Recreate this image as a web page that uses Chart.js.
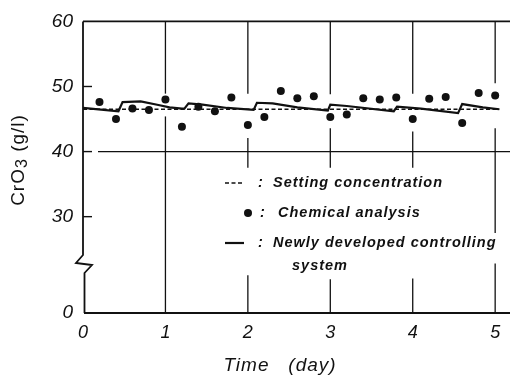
<!DOCTYPE html>
<html>
<head>
<meta charset="utf-8">
<script src="https://cdn.jsdelivr.net/npm/chart.js@4.4.1/dist/chart.umd.min.js"></script>
<style>
  html, body { margin: 0; padding: 0; background: #fff; }
  #wrap { width: 514px; height: 380px; }
</style>
</head>
<body>
<div id="wrap"><canvas id="chart"></canvas></div>
<script>
// chemical analysis (dots)
const dotDays = [0.2, 0.4, 0.6, 0.8, 1.0, 1.2, 1.4, 1.6, 1.8, 2.0, 2.2, 2.4, 2.6, 2.8, 3.0, 3.2, 3.4, 3.6, 3.8, 4.0, 4.2, 4.4, 4.6, 4.8, 5.0];
const dotValues = [47.6, 45.0, 46.6, 46.4, 48.0, 43.8, 46.9, 46.2, 48.3, 44.1, 45.3, 49.3, 48.2, 48.5, 45.3, 45.7, 48.2, 48.0, 48.3, 45.0, 48.1, 48.4, 44.4, 49.0, 48.6];

// setting concentration (dashed)
const settingDays = [0, 5.05];
const settingValues = [46.5, 46.5];

// newly developed controlling system (solid)
const controlDays = [0, 0.43, 0.48, 0.7, 0.9, 1.05, 1.2, 1.23, 1.28, 1.45, 1.75, 2.07, 2.11, 2.3, 2.6, 2.97, 3.0, 3.2, 3.77, 3.81, 4.1, 4.55, 4.6, 4.85, 5.05];
const controlValues = [46.7, 46.2, 47.6, 47.7, 47.2, 46.8, 46.6, 46.6, 47.4, 47.2, 46.7, 46.4, 47.5, 47.4, 46.8, 46.3, 47.2, 47.0, 46.2, 46.9, 46.6, 45.9, 47.3, 46.8, 46.5];

const xTicks = [0, 1, 2, 3, 4, 5];
const yTicks = [30, 40, 50, 60];
const Y_BREAK_MIN = 15.2; // display value where "0" sits below the axis break

const pts = (xs, ys) => xs.map((x, i) => ({x: x, y: ys[i]}));

// visible pieces of the vertical day lines (in y units)
const vSegments = {
  1: [[60, 48.9], [45.4, Y_BREAK_MIN]],
  2: [[60, 48.9], [42.1, 37.5], [21.0, Y_BREAK_MIN]],
  3: [[60, 48.8], [43.6, 37.5], [20.4, Y_BREAK_MIN]],
  4: [[60, 48.9], [43.1, 37.5], [20.5, Y_BREAK_MIN]],
  5: [[60, 50.5], [43.6, 27.5], [22.8, Y_BREAK_MIN]]
};

const FONT = '"Liberation Sans", Arial, sans-serif';

const frame = {
  id: 'frame',
  beforeDatasetsDraw(chart) {
    const {ctx, chartArea: a, scales: {x, y}} = chart;
    ctx.save();
    ctx.strokeStyle = '#111';
    ctx.lineWidth = 1.8;
    // top border
    ctx.beginPath();
    ctx.moveTo(a.left, a.top); ctx.lineTo(a.right, a.top);
    ctx.stroke();
    // bottom axis
    ctx.beginPath();
    ctx.moveTo(a.left + 1, a.bottom); ctx.lineTo(a.right, a.bottom);
    ctx.stroke();
    // left axis with break
    ctx.beginPath();
    ctx.moveTo(a.left, a.top);
    ctx.lineTo(a.left, 255);
    ctx.lineTo(a.left - 7, 263);
    ctx.lineTo(a.left + 9, 265);
    ctx.lineTo(a.left + 1.5, 273);
    ctx.lineTo(a.left + 1.5, a.bottom);
    ctx.stroke();
    // y tick marks inside
    ctx.lineWidth = 1.4;
    [30, 40, 50].forEach(v => {
      const py = y.getPixelForValue(v);
      ctx.beginPath(); ctx.moveTo(a.left, py); ctx.lineTo(a.left + 9, py); ctx.stroke();
    });
    // 40 line
    const p40 = y.getPixelForValue(40);
    ctx.beginPath(); ctx.moveTo(a.left + 15, p40); ctx.lineTo(a.right, p40); ctx.stroke();
    // vertical day lines
    ctx.lineWidth = 1.3;
    Object.keys(vSegments).forEach(d => {
      const px = x.getPixelForValue(+d);
      vSegments[d].forEach(s => {
        ctx.beginPath();
        ctx.moveTo(px, y.getPixelForValue(s[0]));
        ctx.lineTo(px, y.getPixelForValue(s[1]));
        ctx.stroke();
      });
    });
    ctx.restore();
  },
  afterDraw(chart) {
    const {ctx} = chart;
    ctx.save();
    ctx.fillStyle = '#111';
    ctx.letterSpacing = '1px';
    // y title with subscript
    ctx.translate(19, 160);
    ctx.rotate(-Math.PI / 2);
    ctx.textBaseline = 'middle';
    ctx.textAlign = 'left';
    const big = '19px ' + FONT, small = '16px ' + FONT;
    ctx.font = big;
    const w0 = ctx.measureText('CrO').width;
    const w2 = ctx.measureText(' (g/l)').width;
    ctx.font = small;
    const w1 = ctx.measureText('3').width;
    const sx = -(w0 + w1 + w2) / 2;
    ctx.font = big;
    ctx.fillText('CrO', sx, 0);
    ctx.font = small;
    ctx.fillText('3', sx + w0, 4);
    ctx.font = big;
    ctx.fillText(' (g/l)', sx + w0 + w1, 0);
    ctx.restore();

    ctx.save();
    ctx.fillStyle = '#111';
    ctx.strokeStyle = '#111';
    ctx.letterSpacing = '1px';
    // x title
    ctx.font = 'italic 19px ' + FONT;
    ctx.textAlign = 'center';
    ctx.textBaseline = 'middle';
    ctx.fillText('Time   (day)', 280, 366);

    // legend
    ctx.font = 'bold italic 14.5px ' + FONT;
    ctx.textAlign = 'left';
    ctx.lineWidth = 1.3;
    ctx.setLineDash([4, 2.5]);
    ctx.beginPath(); ctx.moveTo(225, 183); ctx.lineTo(244, 183); ctx.stroke();
    ctx.setLineDash([]);
    ctx.fillText(':', 258, 183);
    ctx.fillText('Setting concentration', 273, 183);

    ctx.beginPath(); ctx.arc(248, 213, 4, 0, Math.PI * 2); ctx.fill();
    ctx.fillText(':', 260, 213);
    ctx.fillText('Chemical analysis', 278, 213);

    ctx.lineWidth = 2.2;
    ctx.beginPath(); ctx.moveTo(225, 243); ctx.lineTo(244, 243); ctx.stroke();
    ctx.fillText(':', 258, 243);
    ctx.fillText('Newly developed controlling', 273, 243);
    ctx.fillText('system', 292, 266);
    ctx.restore();
  }
};

new Chart(document.getElementById('chart'), {
  type: 'scatter',
  data: {
    datasets: [
      {
        label: 'Chemical analysis',
        data: pts(dotDays, dotValues),
        showLine: false,
        pointRadius: 4,
        pointBackgroundColor: '#111',
        pointBorderWidth: 0,
        order: 0
      },
      {
        label: 'Setting concentration',
        data: pts(settingDays, settingValues),
        showLine: true,
        borderColor: '#111',
        borderWidth: 1.3,
        borderDash: [4, 2.5],
        pointRadius: 0,
        order: 2
      },
      {
        label: 'Newly developed controlling system',
        data: pts(controlDays, controlValues),
        showLine: true,
        borderColor: '#111',
        borderWidth: 2.2,
        pointRadius: 0,
        tension: 0,
        order: 1
      }
    ]
  },
  options: {
    responsive: true,
    maintainAspectRatio: false,
    animation: false,
    layout: {padding: {top: 19.5, right: 0, left: 0, bottom: 0}},
    plugins: {legend: {display: false}, tooltip: {enabled: false}},
    scales: {
      x: {
        type: 'linear',
        min: 0,
        max: 5.18,
        afterBuildTicks: s => { s.ticks = xTicks.map(v => ({value: v})); },
        ticks: {font: {family: FONT, size: 18, style: 'italic'}, color: '#111', padding: 9, callback: v => String(v)},
        grid: {display: false, drawTicks: false, tickLength: 0},
        border: {display: false},
        afterFit: s => { s.height = 67; }
      },
      y: {
        type: 'linear',
        min: Y_BREAK_MIN,
        max: 60,
        afterBuildTicks: s => { s.ticks = [Y_BREAK_MIN].concat(yTicks).map(v => ({value: v})); },
        ticks: {font: {family: FONT, size: 19, style: 'italic'}, color: '#111', padding: 10, callback: v => v === Y_BREAK_MIN ? '0' : String(v)},
        grid: {display: false, drawTicks: false, tickLength: 0},
        border: {display: false},
        afterFit: s => { s.width = 83; }
      }
    }
  },
  plugins: [frame]
});
</script>
</body>
</html>
